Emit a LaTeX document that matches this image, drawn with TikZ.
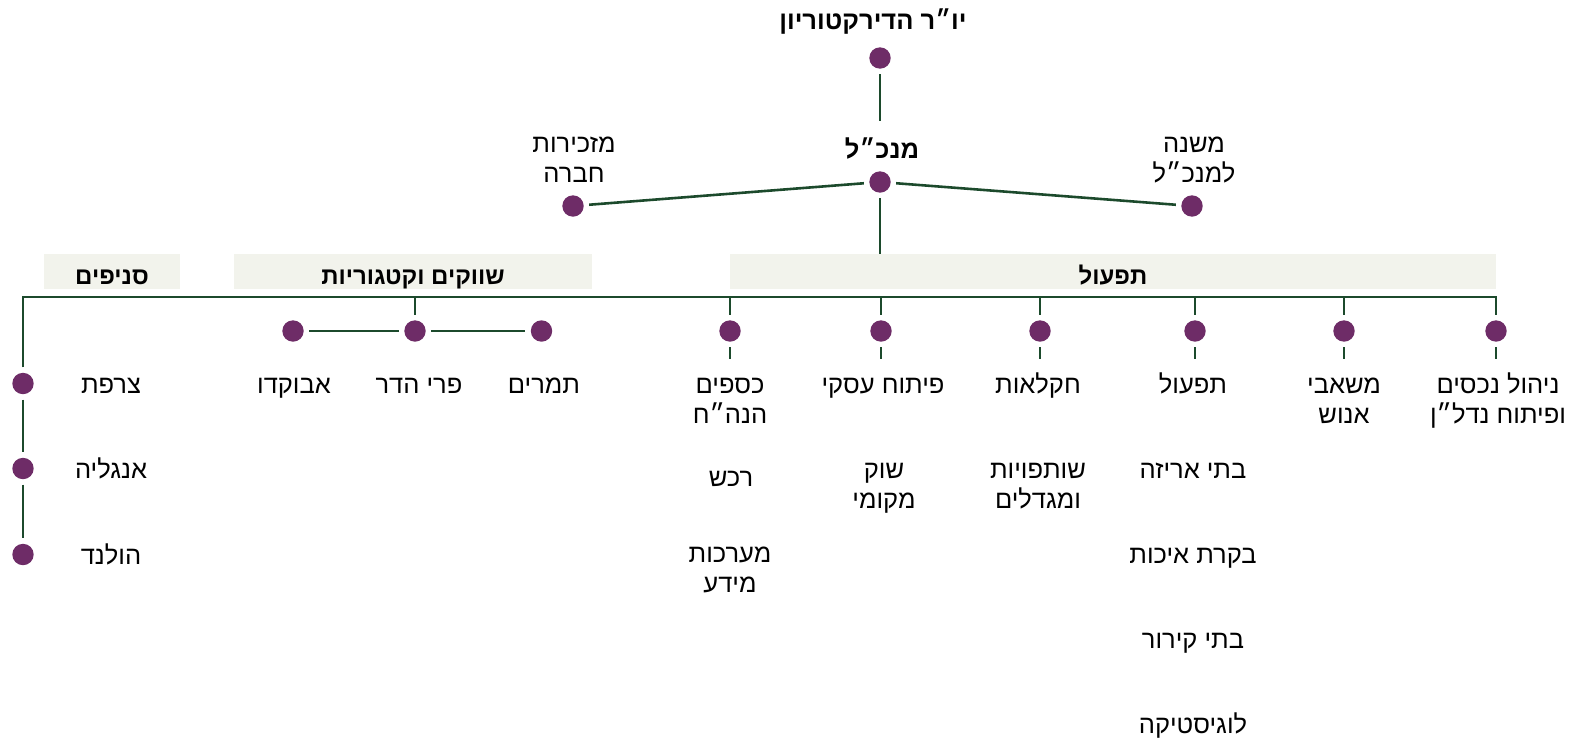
\documentclass[tikz,border=0pt]{standalone}
\usepackage{fontspec}
\newfontfamily\hebfont[Script=Hebrew]{Liberation Sans}
\TeXXeTstate=1
\newcommand{\hb}[1]{\beginR #1\endR}
\definecolor{dotc}{RGB}{110,44,103}
\definecolor{linec}{RGB}{28,74,44}
\definecolor{barc}{RGB}{242,243,236}
\tikzset{
  dot/.style={circle, fill=dotc, minimum size=21.4pt, inner sep=0pt, outer sep=5.5pt},
  conn/.style={draw=linec, line width=2.6pt},
  lbl/.style={font=\hebfont\fontsize{25.5}{29.5}\selectfont, align=center, inner sep=0pt, anchor=base},
  blbl/.style={lbl, font=\hebfont\bfseries\fontsize{25.5}{29.5}\selectfont},
  bar/.style={fill=barc, inner sep=0pt, minimum height=35pt, text height=26pt, text depth=1pt,
    font=\hebfont\bfseries\fontsize{24}{28}\selectfont}
}
\begin{document}
\begin{tikzpicture}[x=1pt,y=-1pt]
\useasboundingbox (0,0) rectangle (1575,739);
% top
\node[blbl] (tChair) at (873,29) {\hb{יו״ר הדירקטוריון}};
\node[dot] (dChair) at (880,58) {};
\node[blbl] (tCEO) at (882,158) {\hb{מנכ״ל}};
\node[dot] (dCEO) at (880,182) {};
\node[dot] (dSec) at (573,206) {};
\node[lbl] (tSec) at (574,182) {\hb{מזכירות}\\\hb{חברה}};
\node[dot] (dDep) at (1192,206) {};
\node[lbl] (tDep) at (1194,182) {\hb{משנה}\\\hb{למנכ״ל}};
% bars
\node[bar, minimum width=136pt] (barB) at (112,271.5) {\hb{סניפים}};
\node[bar, minimum width=358pt] (barM) at (413,271.5) {\hb{שווקים וקטגוריות}};
\node[bar, minimum width=766pt] (barO) at (1113,271.5) {\hb{תפעול}};
\coordinate (mL) at (23,297);
\coordinate (mR) at (1496,297);
\draw[conn, shorten >=16pt] (dChair) -- (dChair |- tCEO.north);
\draw[conn] (dCEO) -- (dSec);
\draw[conn] (dCEO) -- (dDep);
\draw[conn] (dCEO) -- (dCEO |- barO.north);
% column dots
\node[dot] (c1) at (730,331) {};
\node[dot] (c2) at (881,331) {};
\node[dot] (c3) at (1040,331) {};
\node[dot] (c4) at (1195,331) {};
\node[dot] (c5) at (1344,331) {};
\node[dot] (c6) at (1496,331) {};
\node[dot] (m1) at (293,331) {};
\node[dot] (m2) at (415,331) {};
\node[dot] (m3) at (541.5,331) {};
\node[dot] (b1) at (23,383.5) {};
\node[dot] (b2) at (23,468.5) {};
\node[dot] (b3) at (23,554.5) {};
% connectors
\draw[conn] (b1) -- (mL) -- (mR) -- (c6);
\draw[conn] (b1) -- (b2);
\draw[conn] (b2) -- (b3);
\foreach \c in {c1,c2,c3,c4,c5,m2} {\draw[conn] (\c |- mL) -- (\c);}
\foreach \c in {c1,c2,c3,c4,c5,c6} {\draw[conn] (\c) -- ++(0,28);}
\draw[conn] (m1) -- (m2);
\draw[conn] (m2) -- (m3);
% labels
\node[lbl] (l6) at (1498,423) {\hb{ניהול נכסים}\\\hb{ופיתוח נדל״ן}};
\node[lbl] (l5) at (1344,423) {\hb{משאבי}\\\hb{אנוש}};
\node[lbl] (l4a) at (1193,393) {\hb{תפעול}};
\node[lbl] (l4b) at (1193,478) {\hb{בתי אריזה}};
\node[lbl] (l4c) at (1193,563) {\hb{בקרת איכות}};
\node[lbl] (l4d) at (1193,648) {\hb{בתי קירור}};
\node[lbl] (l4e) at (1193,733) {\hb{לוגיסטיקה}};
\node[lbl] (l3a) at (1038,393) {\hb{חקלאות}};
\node[lbl] (l3b) at (1038,508) {\hb{שותפויות}\\\hb{ומגדלים}};
\node[lbl] (l2a) at (883,393) {\hb{פיתוח עסקי}};
\node[lbl] (l2b) at (884,508) {\hb{שוק}\\\hb{מקומי}};
\node[lbl] (l1a) at (730,423) {\hb{כספים}\\\hb{הנה״ח}};
\node[lbl] (l1b) at (731,486) {\hb{רכש}};
\node[lbl] (l1c) at (730,592) {\hb{מערכות}\\\hb{מידע}};
\node[lbl] (lm1) at (294,393) {\hb{אבוקדו}};
\node[lbl] (lm2) at (419,393) {\hb{פרי הדר}};
\node[lbl] (lm3) at (544,393) {\hb{תמרים}};
\node[lbl] (lb1) at (111,393) {\hb{צרפת}};
\node[lbl] (lb2) at (111,478) {\hb{אנגליה}};
\node[lbl] (lb3) at (111,564) {\hb{הולנד}};
\end{tikzpicture}
\end{document}
